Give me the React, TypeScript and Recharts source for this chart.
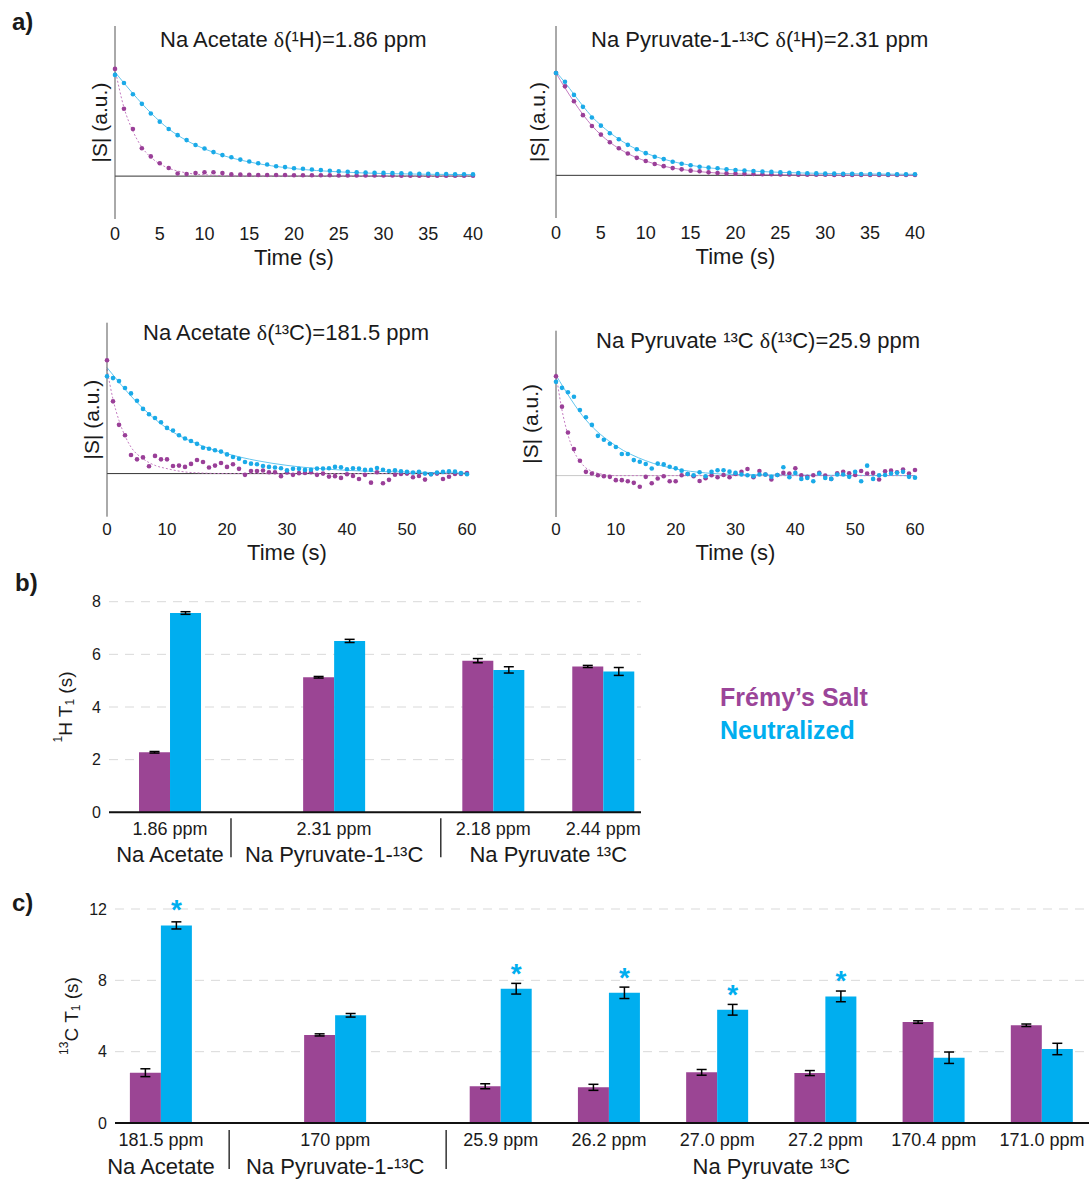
import React from 'react';
import {
  ComposedChart, Scatter, Line, XAxis, YAxis, ReferenceLine, Label,
  BarChart, Bar, ErrorBar, CartesianGrid, LabelList,
} from 'recharts';

const FONT = 'Arial, "Liberation Sans", Helvetica, sans-serif';
const SERIF = '"Liberation Serif", "Times New Roman", serif';
const PURPLE = '#9B4594';
const BLUE = '#00AEEF';
const DOT_PURPLE = '#9A3F98';
const DOT_BLUE = '#1AAAE8';
const FIT_PURPLE = '#C47CC1';
const FIT_BLUE = '#62C5EE';
const INK = '#1a1a1a';

// ---- panel a: normalised |S|, one sample per second ----
const acetateH_fremy = [5.0, 3.14, 2.2, 1.3, 0.92, 0.6, 0.38, 0.12, 0.1, 0.14, 0.18, 0.18, 0.14, 0.08, 0.07, 0.06, 0.05, 0.05, 0.05, 0.05, 0.04, 0.04, 0.04, 0.04, 0.04, 0.03, 0.03, 0.03, 0.03, 0.03, 0.03, 0.03, 0.02, 0.02, 0.02, 0.02, 0.02, 0.02, 0.02, 0.02, 0.02];
const acetateH_neut = [4.72, 4.34, 3.82, 3.37, 2.92, 2.54, 2.2, 1.91, 1.68, 1.45, 1.29, 1.12, 0.98, 0.88, 0.77, 0.68, 0.6, 0.54, 0.46, 0.42, 0.37, 0.34, 0.31, 0.28, 0.25, 0.23, 0.2, 0.18, 0.17, 0.16, 0.15, 0.14, 0.13, 0.12, 0.11, 0.11, 0.1, 0.1, 0.09, 0.09, 0.08];
const acetateH_fremyFit = [[0, 5.0], [1, 3.2], [2, 2.1], [3, 1.35], [4, 0.88], [5, 0.57], [6, 0.37], [8, 0.15], [10, 0.06], [14, 0.01], [40, 0]];
const acetateH_neutFit = [[0, 4.85], [2, 3.85], [4, 2.95], [6, 2.2], [8, 1.66], [10, 1.27], [12, 0.97], [15, 0.66], [20, 0.35], [25, 0.2], [30, 0.12], [40, 0.07]];

const pyr1H_fremy = [4.8, 4.17, 3.47, 2.82, 2.31, 1.91, 1.55, 1.27, 1.02, 0.82, 0.67, 0.53, 0.43, 0.34, 0.28, 0.22, 0.19, 0.14, 0.11, 0.09, 0.08, 0.07, 0.06, 0.05, 0.05, 0.04, 0.04, 0.03, 0.03, 0.03, 0.03, 0.02, 0.02, 0.02, 0.02, 0.02, 0.02, 0.02, 0.02, 0.02, 0.02];
const pyr1H_neut = [4.8, 4.39, 3.77, 3.21, 2.71, 2.33, 1.97, 1.69, 1.43, 1.22, 1.04, 0.87, 0.76, 0.64, 0.54, 0.47, 0.4, 0.36, 0.33, 0.28, 0.25, 0.23, 0.2, 0.18, 0.16, 0.14, 0.12, 0.11, 0.1, 0.09, 0.08, 0.08, 0.07, 0.07, 0.06, 0.06, 0.06, 0.05, 0.05, 0.05, 0.05];
const pyr1H_fremyFit = [[0, 4.8], [1, 4.1], [2, 3.45], [3, 2.85], [4, 2.33], [5, 1.9], [6, 1.55], [8, 1.02], [10, 0.67], [12, 0.43], [15, 0.22], [20, 0.07], [25, 0.02], [40, 0]];
const pyr1H_neutFit = [[0, 4.85], [1, 4.35], [2, 3.8], [3, 3.25], [4, 2.75], [5, 2.35], [6, 2.0], [8, 1.44], [10, 1.04], [12, 0.76], [15, 0.47], [20, 0.25], [25, 0.14], [30, 0.09], [40, 0.05]];

const acetateC_fremy = [5.26, 3.35, 2.26, 1.78, 0.86, 0.66, 0.75, 0.34, 0.82, 0.66, 0.66, 0.35, 0.37, 0.31, 0.45, 0.63, 0.54, 0.28, 0.37, 0.49, 0.31, 0.43, 0.22, -0.06, 0.12, 0.12, 0.14, 0.06, 0.06, -0.12, 0.05, -0.06, 0.02, 0.03, 0.06, -0.06, 0.0, -0.14, -0.12, -0.2, -0.03, -0.11, -0.25, -0.06, -0.42, 0.06, -0.45, -0.29, -0.05, -0.02, 0.0, -0.17, -0.11, -0.28, -0.03, 0.0, -0.25, -0.15, -0.02, -0.02, 0.03];
const acetateC_neut = [4.51, 4.43, 4.29, 3.97, 3.72, 3.38, 3.0, 2.75, 2.58, 2.38, 2.12, 2.0, 1.78, 1.63, 1.51, 1.38, 1.2, 1.15, 1.08, 1.02, 0.89, 0.77, 0.69, 0.54, 0.46, 0.43, 0.35, 0.31, 0.28, 0.25, 0.15, 0.22, 0.22, 0.17, 0.18, 0.23, 0.23, 0.25, 0.31, 0.29, 0.2, 0.25, 0.23, 0.17, 0.17, 0.26, 0.18, 0.12, 0.15, 0.11, 0.08, 0.05, 0.08, 0.0, -0.03, 0.05, 0.08, 0.11, 0.09, 0.02, -0.03];
const acetateC_fremyFit = [[0, 4.85], [1, 3.45], [2, 2.46], [3, 1.75], [4, 1.23], [6, 0.69], [8, 0.38], [10, 0.23], [14, 0.05], [20, 0], [60, 0]];
const acetateC_neutFit = [[0, 4.92], [5, 3.3], [10, 2.1], [15, 1.38], [20, 0.92], [25, 0.6], [30, 0.38], [40, 0.15], [50, 0.07], [60, 0.03]];

const pyrC_fremy = [4.8, 3.33, 2.08, 1.28, 0.72, 0.18, 0.1, 0.02, -0.03, -0.06, -0.22, -0.22, -0.27, -0.35, -0.54, -0.06, -0.37, -0.14, -0.03, -0.27, -0.27, 0.02, 0.08, -0.03, -0.26, -0.13, 0.02, -0.08, 0.03, -0.08, 0.08, 0.18, 0.32, -0.08, 0.22, 0.05, -0.19, 0.03, 0.13, 0.1, 0.35, 0.02, -0.06, 0.02, 0.13, 0.0, -0.16, 0.11, 0.18, 0.11, 0.03, 0.22, 0.1, 0.13, -0.19, 0.21, 0.24, 0.16, 0.29, 0.1, 0.27];
const pyrC_neut = [4.53, 4.24, 4.03, 3.81, 3.17, 2.82, 2.45, 1.92, 1.73, 1.54, 1.38, 1.04, 1.04, 0.75, 0.67, 0.56, 0.34, 0.58, 0.54, 0.43, 0.35, 0.24, 0.08, 0.02, 0.16, -0.03, 0.18, 0.26, 0.26, 0.19, 0.13, 0.05, 0.02, -0.03, 0.05, 0.05, -0.06, 0.03, 0.4, -0.08, 0.13, -0.16, -0.11, -0.27, 0.1, -0.11, -0.16, 0.05, 0.05, -0.06, 0.18, -0.27, 0.48, -0.16, 0.02, 0.03, 0.1, 0.14, 0.18, -0.06, -0.1];
const pyrC_fremyFit = [[0, 4.93], [1, 3.17], [2, 1.97], [3, 1.17], [4, 0.69], [5, 0.37], [6, 0.21], [8, 0.05], [10, 0], [60, 0]];
const pyrC_neutFit = [[0, 4.85], [5, 2.69], [10, 1.44], [15, 0.72], [20, 0.32], [25, 0.13], [30, 0.05], [60, 0]];

const yTicksA = [-2, -1, 0, 1, 2, 3, 4, 5, 6, 7];
const timeTicks40 = [0, 5, 10, 15, 20, 25, 30, 35, 40];
const timeTicks60 = [0, 10, 20, 30, 40, 50, 60];

// ---- panel b: 1H T1 (s) ----
const ppmB = ['1.86 ppm', '2.31 ppm', '2.18 ppm', '2.44 ppm'];
const fremyB = [2.28, 5.13, 5.76, 5.54];
const fremyErrB = [0.03, 0.03, 0.08, 0.04];
const neutB = [7.57, 6.51, 5.41, 5.35];
const neutErrB = [0.05, 0.06, 0.12, 0.15];
const groupsB = [
  { name: 'Na Acetate', members: [0] },
  { name: 'Na Pyruvate-1-¹³C', members: [1] },
  { name: 'Na Pyruvate ¹³C', members: [2, 3] },
];

// ---- panel c: 13C T1 (s) ----
const ppmC = ['181.5 ppm', '170 ppm', '25.9 ppm', '26.2 ppm', '27.0 ppm', '27.2 ppm', '170.4 ppm', '171.0 ppm'];
const fremyC = [2.82, 4.94, 2.06, 2.0, 2.84, 2.8, 5.66, 5.48];
const fremyErrC = [0.22, 0.06, 0.14, 0.17, 0.16, 0.14, 0.07, 0.07];
const neutC = [11.08, 6.04, 7.53, 7.3, 6.35, 7.1, 3.66, 4.15];
const neutErrC = [0.2, 0.1, 0.3, 0.32, 0.3, 0.3, 0.32, 0.32];
const significantC = [true, false, true, true, true, true, false, false];
const groupsC = [
  { name: 'Na Acetate', members: [0] },
  { name: 'Na Pyruvate-1-¹³C', members: [1] },
  { name: 'Na Pyruvate ¹³C', members: [2, 3, 4, 5, 6, 7] },
];

// category slot layout along the x axis (uneven spacing as in the figure)
const slotsB = [0, 3, 5.91, 7.92];
const sepsB = [1.115, 4.95];
const slotsC = [0, 3.22, 6.28, 8.28, 10.28, 12.28, 14.28, 16.28];
const sepsC = [1.26, 5.27];

const pts = (vals: number[]) => vals.map((v, i) => ({ t: i, v }));
const fitPts = (pairs: number[][]) => pairs.map(([t, v]) => ({ t, v }));

const dotShape = (color: string) => (p: any) =>
  p.cx == null ? <g /> : <circle cx={p.cx} cy={p.cy} r={2.3} fill={color} />;

type DecayProps = {
  left: number; top: number; width: number; height: number;
  marginLeft: number; marginTop: number; yAxisWidth: number;
  xMax: number; xTicks: number[]; timeOffset: number; tickFont: number; tickGap: number;
  fremy: number[]; neut: number[]; fremyFit: number[][]; neutFit: number[][];
  baseColor: string; purpleDash?: string;
};

function DecayPlot(p: DecayProps) {
  return (
    <div style={{ position: 'absolute', left: p.left, top: p.top }}>
      <ComposedChart
        width={p.width}
        height={p.height}
        margin={{ top: p.marginTop, right: 17, bottom: 0, left: p.marginLeft }}
        style={{ fontFamily: FONT }}
      >
        <XAxis
          type="number" dataKey="t" domain={[0, p.xMax]} ticks={p.xTicks} interval={0}
          axisLine={false} tickLine={false} height={51} tickMargin={p.tickGap}
          tick={{ fontSize: p.tickFont, fill: INK }}
        >
          <Label value="Time (s)" position="insideBottom" offset={p.timeOffset} style={{ fontSize: 22, fill: INK }} />
        </XAxis>
        <YAxis
          type="number" dataKey="v" domain={[-2, 7]} ticks={yTicksA} interval={0} allowDataOverflow
          tick={false} tickSize={-3} width={p.yAxisWidth}
          axisLine={{ stroke: '#555' }} tickLine={{ stroke: '#555' }}
        >
          <Label value="|S| (a.u.)" angle={-90} position="center" style={{ fontSize: 21, fill: INK }} />
        </YAxis>
        <ReferenceLine y={0} stroke={p.baseColor} strokeWidth={1} />
        <Line data={fitPts(p.neutFit)} dataKey="v" type="monotone" stroke={FIT_BLUE} strokeWidth={1} dot={false} isAnimationActive={false} />
        <Line data={fitPts(p.fremyFit)} dataKey="v" type="monotone" stroke={FIT_PURPLE} strokeWidth={1} strokeDasharray={p.purpleDash} dot={false} isAnimationActive={false} />
        <Scatter data={pts(p.fremy)} dataKey="v" shape={dotShape(DOT_PURPLE)} isAnimationActive={false} />
        <Scatter data={pts(p.neut)} dataKey="v" shape={dotShape(DOT_BLUE)} isAnimationActive={false} />
      </ComposedChart>
    </div>
  );
}

const yLabel = (sup: string, base: string) => (lp: any) => {
  const vb = lp.viewBox || { x: 0, y: 0, width: 0, height: 0 };
  const cx = vb.x + 16;
  const cy = vb.y + vb.height / 2;
  return (
    <text x={cx} y={cy} transform={`rotate(-90 ${cx} ${cy})`} textAnchor="middle" dominantBaseline="central"
      fontSize={19} fill={INK} fontFamily={FONT}>
      <tspan fontSize={12} dy={-7}>{sup}</tspan>
      <tspan dy={7}>{base} T</tspan>
      <tspan fontSize={12} dy={5}>1</tspan>
      <tspan dy={-5}> (s)</tspan>
    </text>
  );
};

const starLabel = (lp: any) =>
  lp.value === '*' ? (
    <text x={lp.x + lp.width / 2} y={lp.y - 6} textAnchor="middle" fontSize={28} fontWeight="bold" fill={BLUE} fontFamily={FONT}>*</text>
  ) : null;

type BarsProps = {
  top: number; width: number; height: number; marginTop: number; marginLeft: number; xAxisHeight: number;
  domain: number[]; yMax: number; yTicks: number[];
  ppm: string[]; slots: number[]; seps: number[];
  groups: { name: string; members: number[] }[];
  fremy: number[]; fremyErr: number[]; neut: number[]; neutErr: number[]; stars?: boolean[];
  sup: string; base: string;
};

function T1Bars(p: BarsProps) {
  const rows = p.ppm.map((_, i) => ({
    slot: p.slots[i],
    fremy: p.fremy[i],
    fremyErr: p.fremyErr[i],
    neut: p.neut[i],
    neutErr: p.neutErr[i],
    star: p.stars && p.stars[i] ? '*' : '',
  }));
  const centers = p.groups.map((g) => g.members.reduce((s, m) => s + p.slots[m], 0) / g.members.length);

  const ppmTick = (t: any) => {
    const i = p.slots.indexOf(t.payload.value);
    return (
      <text x={t.x} y={t.y + 15} textAnchor="middle" fontSize={18} fill={INK} fontFamily={FONT}>{p.ppm[i]}</text>
    );
  };
  const groupTick = (t: any) => {
    const gi = centers.indexOf(t.payload.value);
    if (gi >= 0) {
      return (
        <text x={t.x} y={t.y + 18} textAnchor="middle" fontSize={22} fill={INK} fontFamily={FONT}>{p.groups[gi].name}</text>
      );
    }
    return <line x1={t.x} x2={t.x} y1={t.y - 26} y2={t.y + 13} stroke="#333" strokeWidth={1.5} />;
  };

  return (
    <div style={{ position: 'absolute', left: 0, top: p.top }}>
      <BarChart
        width={p.width} height={p.height} data={rows}
        margin={{ top: p.marginTop, right: 0, bottom: 0, left: p.marginLeft }}
        barGap={0} barSize={31}
        style={{ fontFamily: FONT, overflow: 'visible' }}
      >
        <CartesianGrid vertical={false} stroke="#d9d9d9" strokeDasharray="9 7" />
        <XAxis
          dataKey="slot" type="number" domain={p.domain} allowDataOverflow ticks={p.slots} interval={0}
          tick={ppmTick} tickLine={false} axisLine={{ stroke: '#111', strokeWidth: 2 }} height={p.xAxisHeight}
        />
        <XAxis
          xAxisId="grp" dataKey="slot" type="number" domain={p.domain} allowDataOverflow
          ticks={[...centers, ...p.seps]} interval={0}
          tick={groupTick} tickLine={false} axisLine={false} height={36}
        />
        <YAxis
          type="number" domain={[0, p.yMax]} ticks={p.yTicks} interval={0} allowDataOverflow
          axisLine={false} tickLine={false} width={60} tick={{ fontSize: 16, fill: INK }}
        >
          <Label content={yLabel(p.sup, p.base)} />
        </YAxis>
        <Bar dataKey="fremy" fill={PURPLE} isAnimationActive={false}>
          <ErrorBar dataKey="fremyErr" width={5} stroke="#000" strokeWidth={1.5} direction="y" />
        </Bar>
        <Bar dataKey="neut" fill={BLUE} isAnimationActive={false}>
          <ErrorBar dataKey="neutErr" width={5} stroke="#000" strokeWidth={1.5} direction="y" />
          <LabelList dataKey="star" content={starLabel} />
        </Bar>
      </BarChart>
    </div>
  );
}

const abs = (left: number, top: number, extra: React.CSSProperties = {}): React.CSSProperties => ({
  position: 'absolute', left, top, whiteSpace: 'nowrap', lineHeight: 1, fontFamily: FONT, color: INK, ...extra,
});
const delta = <span style={{ fontFamily: SERIF }}>δ</span>;

export default function App() {
  return (
    <div style={{ position: 'absolute', left: 0, top: 0, width: 1089, height: 1179, background: '#fff', overflow: 'hidden', fontFamily: FONT }}>
      <div style={abs(12, 10, { fontSize: 24, fontWeight: 'bold' })}>a)</div>
      <div style={abs(15, 571, { fontSize: 24, fontWeight: 'bold' })}>b)</div>
      <div style={abs(12, 891, { fontSize: 24, fontWeight: 'bold' })}>c)</div>

      <DecayPlot left={0} top={0} width={490} height={270} marginLeft={85} marginTop={26} yAxisWidth={30}
        xMax={40} xTicks={timeTicks40} timeOffset={5} tickFont={18} tickGap={2}
        fremy={acetateH_fremy} neut={acetateH_neut} fremyFit={acetateH_fremyFit} neutFit={acetateH_neutFit}
        baseColor="#333" purpleDash="2 2" />
      <DecayPlot left={441} top={0} width={491} height={269} marginLeft={79} marginTop={26} yAxisWidth={36}
        xMax={40} xTicks={timeTicks40} timeOffset={5} tickFont={18} tickGap={2}
        fremy={pyr1H_fremy} neut={pyr1H_neut} fremyFit={pyr1H_fremyFit} neutFit={pyr1H_neutFit}
        baseColor="#333" />
      <DecayPlot left={0} top={296} width={484} height={271.7} marginLeft={77} marginTop={26.7} yAxisWidth={30}
        xMax={60} xTicks={timeTicks60} timeOffset={8} tickFont={17} tickGap={0}
        fremy={acetateC_fremy} neut={acetateC_neut} fremyFit={acetateC_fremyFit} neutFit={acetateC_neutFit}
        baseColor="#333" purpleDash="2 2" />
      <DecayPlot left={441} top={296} width={491} height={272} marginLeft={65} marginTop={34.7} yAxisWidth={50}
        xMax={60} xTicks={timeTicks60} timeOffset={8} tickFont={17} tickGap={0}
        fremy={pyrC_fremy} neut={pyrC_neut} fremyFit={pyrC_fremyFit} neutFit={pyrC_neutFit}
        baseColor="#c8c8c8" purpleDash="2 2" />

      <div style={abs(160, 29, { fontSize: 22 })}>Na Acetate {delta}(¹H)=1.86 ppm</div>
      <div style={abs(591, 29, { fontSize: 22 })}>Na Pyruvate-1-¹³C {delta}(¹H)=2.31 ppm</div>
      <div style={abs(143, 322, { fontSize: 22 })}>Na Acetate {delta}(¹³C)=181.5 ppm</div>
      <div style={abs(596, 330, { fontSize: 22 })}>Na Pyruvate ¹³C {delta}(¹³C)=25.9 ppm</div>

      <T1Bars top={580} width={641} height={292.3} marginTop={21.7} marginLeft={49} xAxisHeight={24}
        domain={[-1.115, 8.61]} yMax={8} yTicks={[0, 2, 4, 6, 8]}
        ppm={ppmB} slots={slotsB} seps={sepsB} groups={groupsB}
        fremy={fremyB} fremyErr={fremyErrB} neut={neutB} neutErr={neutErrB}
        sup="1" base="H" />

      <div style={abs(720, 685, { fontSize: 25, fontWeight: 'bold', color: '#9B4599' })}>Frémy’s Salt</div>
      <div style={abs(720, 718, { fontSize: 25, fontWeight: 'bold', color: BLUE })}>Neutralized</div>

      <T1Bars top={880} width={1089} height={304} marginTop={29} marginLeft={55} xAxisHeight={25}
        domain={[-0.85, 17.15]} yMax={12} yTicks={[0, 4, 8, 12]}
        ppm={ppmC} slots={slotsC} seps={sepsC} groups={groupsC}
        fremy={fremyC} fremyErr={fremyErrC} neut={neutC} neutErr={neutErrC} stars={significantC}
        sup="13" base="C" />
    </div>
  );
}
